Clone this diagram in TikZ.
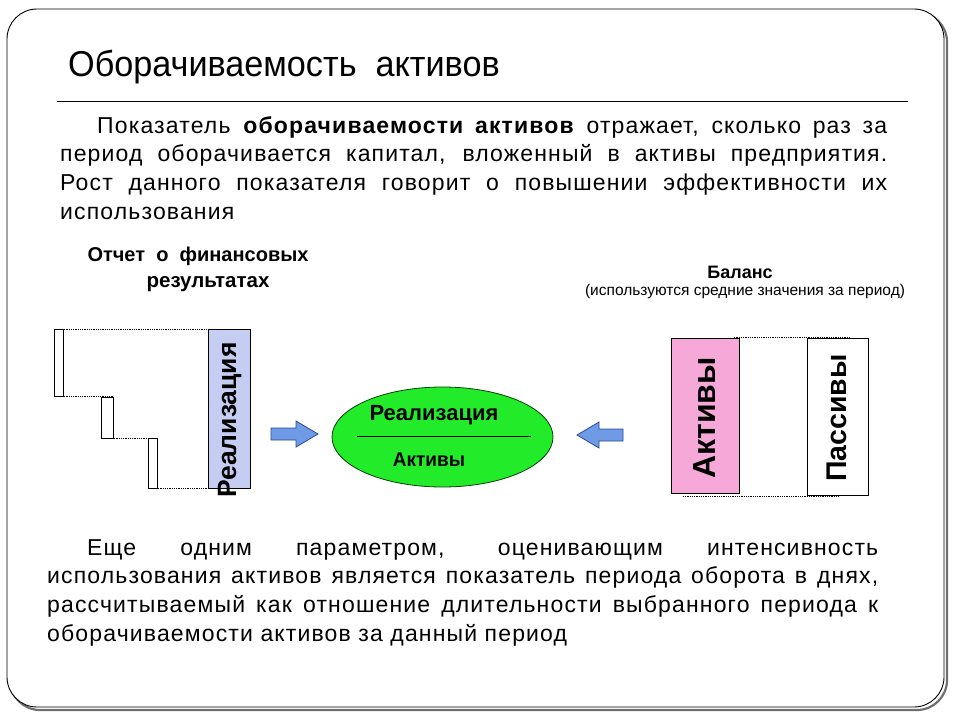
\documentclass[tikz,border=0pt]{standalone}
\usepackage{fontspec}
\setmainfont{Liberation Sans}
\newfontfamily\bodyfont[LetterSpace=5]{Liberation Sans}
\newfontfamily\narrowfont[FakeStretch=0.95]{Liberation Sans}
\usetikzlibrary{shapes.geometric,calc}
\definecolor{realblue}{HTML}{C6CDF2}
\definecolor{arrowblue}{HTML}{6E9AE6}
\definecolor{arrowedge}{HTML}{2C4A94}
\definecolor{aktpink}{HTML}{F6A9D9}
\definecolor{ellgreen}{HTML}{22EC2A}
\definecolor{shadowgrey}{HTML}{707070}
\begin{document}
\begin{tikzpicture}[x=1pt,y=-1pt,
  bar/.style={draw, line width=0.8pt, fill=white, inner sep=0pt, anchor=north west},
  dots/.style={densely dotted, line width=0.8pt},
  blockarrow/.style={fill=arrowblue, draw=arrowedge, line width=0.8pt, line join=miter},
  bodytext/.style={anchor=base west, text width=#1, align=justify, inner sep=0pt,
    font=\bodyfont\fontsize{23}{28.7}\selectfont},
  vlabel/.style={rotate=90, inner sep=0pt, font=\bfseries\fontsize{#1}{#1}\selectfont},
  hdr/.style={inner sep=0pt, align=center}]
\useasboundingbox (0,0) rectangle (960,720);
\fill[white] (0,0) rectangle (960,720);
% frame with shadow
\draw[shadowgrey, line width=2.2pt, rounded corners=30pt] (10,12) rectangle (947,710);
\draw[black, line width=0.9pt, fill=white, rounded corners=30pt] (7,9) rectangle (944,707);
% title
\node[anchor=base west, inner sep=0pt, font=\narrowfont\fontsize{36}{40}\selectfont] (title) at (68,76) {Оборачиваемость\ \ активов};
\draw[line width=0.9pt] (57,101) -- (908,101);
% paragraph 1
\node[bodytext=827pt] (p1) at (60,133) {\hspace*{37pt}Показатель \textbf{оборачиваемости активов} отражает, сколько раз за\linebreak
период оборачивается капитал, вложенный в активы предприятия.\linebreak
Рост данного показателя говорит о повышении эффективности их\linebreak
использования};
% left header
\node[hdr, font=\bfseries\fontsize{20}{25}\selectfont, anchor=base] (h1) at (198,261) {Отчет\ \ о\ \ финансовых};
\node[hdr, font=\bfseries\fontsize{20.5}{25}\selectfont, anchor=base] (h2) at (208,287) {результатах};
% left bars
\node[bar, minimum width=9pt, minimum height=67pt] (b1) at (54,329) {};
\node[bar, minimum width=12pt, minimum height=41pt] (b2) at (101,397) {};
\node[bar, minimum width=9pt, minimum height=50pt] (b3) at (148,438) {};
\node[bar, fill=realblue, minimum width=42pt, minimum height=159pt] (real) at (208,329) {};
\node[vlabel=26.5, anchor=base] (realtxt) at (236,420) {Реализация};
\draw[dots] (b1.north east) -- (real.north west);
\draw[dots] (b1.south east) -- (b1.south east -| b2.north east);
\draw[dots] (b2.south east) -- (b2.south east -| b3.north west);
\draw[dots] (b3.south east) -- (real.south west);
% arrows
\draw[blockarrow] (271,428) -- (296,428) -- (296,421) -- (318,434) -- (296,447) -- (296,440) -- (271,440) -- cycle;
\draw[blockarrow] (623,429) -- (599,429) -- (599,422) -- (577,435) -- (599,448) -- (599,441) -- (623,441) -- cycle;
% ellipse
\node[ellipse, minimum width=221pt, minimum height=100pt, fill=ellgreen, draw=black!75!green, line width=0.8pt] (ell) at (442.5,437) {};
\node[anchor=base, inner sep=0pt, font=\bfseries\fontsize{22}{24}\selectfont] (ellt) at (434,420) {Реализация};
\node[anchor=base, inner sep=0pt, font=\narrowfont\bfseries\fontsize{20}{24}\selectfont] (ellb) at (429,466) {Активы};
\draw[line width=0.9pt] (357,436) -- (531,436);
% right header
\node[hdr, font=\bfseries\fontsize{18}{20}\selectfont, anchor=base] (bal) at (740,278) {Баланс};
\node[hdr, font=\fontsize{15.5}{18}\selectfont, anchor=base] (balsub) at (745,295) {(используются средние значения за период)};
% balance rects
\node[bar, fill=aktpink, minimum width=68pt, minimum height=155pt] (akt) at (671,338) {};
\node[bar, minimum width=61pt, minimum height=157pt] (pas) at (807,338) {};
\node[vlabel=32, anchor=base] (akttxt) at (715,418) {Активы};
\node[vlabel=28.5, anchor=base] (pastxt) at (846,418) {Пассивы};
\draw[dots] ($(akt.north east)+(-6,-1)$) -- ($(pas.north west)+(43,-1)$);
\draw[dots] ($(akt.south west)+(12,3)$) -- ($(pas.south east)+(-30,1)$);
% paragraph 2
\node[bodytext=831pt] (p2) at (47,555) {\hspace*{40pt}Еще одним параметром, оценивающим интенсивность\linebreak
использования активов является показатель периода оборота в днях,\linebreak
рассчитываемый как отношение длительности выбранного периода к\linebreak
оборачиваемости активов за данный период};
\end{tikzpicture}
\end{document}
